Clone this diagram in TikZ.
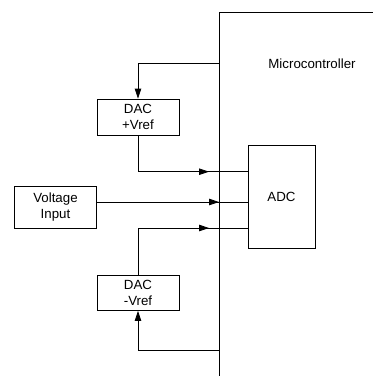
\documentclass[tikz,border=0pt]{standalone}
\usepackage{fontspec}
\setmainfont{Liberation Sans}
\usetikzlibrary{arrows.meta,decorations.markings}
\begin{document}
\begin{tikzpicture}[x=1pt,y=-1pt,
  line width=0.8pt,
  box/.style={draw,inner sep=0pt,align=center,font=\fontsize{13.3}{16}\selectfont},
  lbl/.style={inner sep=0pt,font=\fontsize{13.3}{16}\selectfont},
  tip/.style={-{Triangle[length=10pt,width=6.5pt]}},
  midarrow/.style={decoration={markings,mark=at position #1 with {\arrow{Triangle[length=10pt,width=6.5pt]}}},postaction=decorate}
]
\useasboundingbox (0,0) rectangle (373,376);
% microcontroller outline
\coordinate (mcB) at (219.5,376);
\coordinate (mcT) at (219.5,12.3);
\coordinate (mcR) at (373,12.3);
\draw (mcB) -- (mcT) -- (mcR);
\node[lbl] (mcl) at (312,64) {Microcontroller};
% boxes
\node[box,minimum width=82pt,minimum height=36pt] (dacp) at (138,117) {DAC\\+Vref};
\node[box,minimum width=82pt,minimum height=35pt] (dacm) at (138,293) {DAC\\-Vref};
\node[box,minimum width=82.5pt,minimum height=41.5pt] (vin) at (55.5,207.3) {Voltage\\Input};
\node[box,minimum width=67pt,minimum height=102.5pt] (adc) at (281.5,197) {ADC};
% coordinates
\coordinate (fb1) at (219.5,63.5);
\coordinate (fb2) at (219.5,350.7);
\coordinate (in1) at (248,171.7);
\coordinate (in2) at (248,202);
\coordinate (in3) at (248,228);
\coordinate (vo) at (96.75,202);
% connectors
\draw[tip] (fb1) -| (dacp.north);
\draw[midarrow=-39pt] (dacp.south) |- (in1);
\draw[midarrow=-29pt] (vo) -- (in2);
\draw[midarrow=-39pt] (dacm.north) |- (in3);
\draw[tip] (fb2) -| (dacm.south);
\end{tikzpicture}
\end{document}
